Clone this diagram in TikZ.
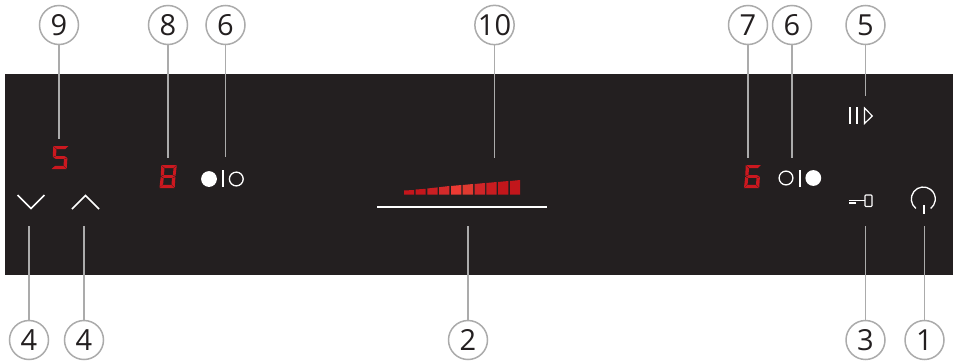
\documentclass[tikz,border=0pt]{standalone}
\usepackage{fontspec}
\setmainfont{Open Sans}
\definecolor{panel}{HTML}{231F20}
\definecolor{ring}{HTML}{ABABAB}
\definecolor{segred}{HTML}{CC181F}
\tikzset{
  callout/.style={circle,draw=ring,line width=1.5pt,fill=white,minimum size=39pt,inner sep=0pt,text=panel,font=\fontsize{29}{29}\selectfont},
  leader/.style={draw=ring,line width=1.3pt},
  icon/.style={draw=white,line width=1.5pt},
  iconfill/.style={fill=white,draw=none},
  seg/.style={fill=segred,draw=none},
}
% seven segment digit: #1 x of lower left, #2 y of bottom
\newcommand{\sgA}[2]{\fill[seg] (#1+2,#2-23) -- (#1+17,#2-23) -- (#1+13.6,#2-19.8) -- (#1+5.6,#2-19.8) -- cycle;}
\newcommand{\sgG}[2]{\fill[seg] (#1+1.9,#2-11.5) -- (#1+4.6,#2-12.9) -- (#1+12.8,#2-12.9) -- (#1+15.5,#2-11.5) -- (#1+12.6,#2-10.1) -- (#1+4.4,#2-10.1) -- cycle;}
\newcommand{\sgD}[2]{\fill[seg] (#1+0,#2) -- (#1+15,#2) -- (#1+11.6,#2-3.2) -- (#1+3.6,#2-3.2) -- cycle;}
\newcommand{\sgF}[2]{\fill[seg] (#1+1.7,#2-22.6) -- (#1+5,#2-19.3) -- (#1+4.5,#2-13.3) -- (#1+1.3,#2-12) -- cycle;}
\newcommand{\sgB}[2]{\fill[seg] (#1+17.3,#2-22.6) -- (#1+16,#2-12) -- (#1+13.4,#2-13.3) -- (#1+14,#2-19.3) -- cycle;}
\newcommand{\sgE}[2]{\fill[seg] (#1+1.2,#2-11) -- (#1+4.2,#2-9.7) -- (#1+3.6,#2-3.7) -- (#1+0,#2-0.4) -- cycle;}
\newcommand{\sgC}[2]{\fill[seg] (#1+15.9,#2-11) -- (#1+15.2,#2-0.4) -- (#1+12,#2-3.7) -- (#1+12.5,#2-9.7) -- cycle;}
\begin{document}
\begin{tikzpicture}[x=1pt,y=-1pt]
\useasboundingbox (0,0) rectangle (953,362);
\fill[panel] (5,74) rectangle (953,275);
% callouts
\node[callout] (n9) at (59,25) {9};
\node[callout] (n8) at (168,25) {8};
\node[callout] (n6a) at (225.5,25) {6};
\node[callout] (n10) at (494.5,25) {10};
\node[callout] (n7) at (748,25) {7};
\node[callout] (n6b) at (792,25) {6};
\node[callout] (n5) at (865.5,25) {5};
\node[callout] (n4a) at (29,340) {4};
\node[callout] (n4b) at (84,340) {4};
\node[callout] (n2) at (468,340) {2};
\node[callout] (n3) at (865.5,340) {3};
\node[callout] (n1) at (924.5,340) {1};
\coordinate (e9) at (59,139);
\coordinate (e8) at (168,157.5);
\coordinate (e6a) at (225.5,156.5);
\coordinate (e10) at (494.5,158);
\coordinate (e7) at (748,157.5);
\coordinate (e6b) at (792,157.5);
\coordinate (e5) at (865.5,95.5);
\coordinate (e4a) at (29,226);
\coordinate (e4b) at (84,226);
\coordinate (e2) at (468,226);
\coordinate (e3) at (865.5,226);
\coordinate (e1) at (924.5,226);
\foreach \a/\b in {n9/e9,n8/e8,n6a/e6a,n10/e10,n7/e7,n6b/e6b,n5/e5,n4a/e4a,n4b/e4b,n2/e2,n3/e3,n1/e1}
  \draw[leader] (\a) -- (\b);
% chevrons
\draw[icon,line join=miter] (17.5,195) -- (31,208.5) -- (44.5,195);
\draw[icon,line join=miter] (72,209) -- (85.5,195.5) -- (99,209);
% left selector
\fill[iconfill] (209,179) circle (7.9);
\fill[iconfill] (222,170) rectangle (224,187);
\draw[icon,line width=1.3pt] (236.3,179) circle (6.9);
% right selector
\draw[icon,line width=1.3pt] (786,178) circle (6.9);
\fill[iconfill] (799,170) rectangle (801,187);
\fill[iconfill] (813.3,178) circle (7.9);
% pause
\fill[iconfill] (849,107) rectangle (851.2,124);
\fill[iconfill] (856,107) rectangle (858.2,124);
\draw[icon,line width=1.2pt,line join=miter] (864.5,108) -- (872.3,116) -- (864.5,123.5) -- cycle;
% key
\fill[iconfill] (849,199.5) rectangle (865,200.8);
\fill[iconfill] (849,201.5) rectangle (856,204);
\draw[icon,line width=1.1pt,rounded corners=0.8pt] (865,195) rectangle (872,206.5);
% power
\draw[icon,line width=1.3pt] (923.3,199) ++(128:12) arc[start angle=128,end angle=412,radius=12];
\fill[iconfill] (923,205) rectangle (925,214);
% slider
\fill[iconfill] (377,206) rectangle (547,208);
% bars
\foreach \xa/\xb/\tl/\tr/\c in {
  404/414/190.5/190/C4161C,
  415.7/425.7/189.5/188.8/C4161C,
  427.3/437.6/188.5/187.4/CB1F23,
  439/449.3/187.2/186/D42A2A,
  451/461.3/186/185/EC3A33,
  462.7/473/185/184/DF3A30,
  474.7/485/184/183/CF2528,
  486.3/496.7/183/182/C81C20,
  498/508.3/182/181/C2161B,
  510/520/181/180/C2161B}{
  \definecolor{barc}{HTML}{\c}
  \fill[barc] (\xa,194.7) -- (\xa,\tl) -- (\xb,\tr) -- (\xb,194.7) -- cycle;
}
% digit 5
\sgA{51.5}{169} \sgF{51.5}{169} \sgG{51.5}{169} \sgC{51.5}{169} \sgD{51.5}{169}
% digit 8
\sgA{159.5}{188} \sgB{159.5}{188} \sgC{159.5}{188} \sgD{159.5}{188} \sgE{159.5}{188} \sgF{159.5}{188} \sgG{159.5}{188}
% digit 6
\sgA{744}{188} \sgF{744}{188} \sgE{744}{188} \sgG{744}{188} \sgC{744}{188} \sgD{744}{188}
\end{tikzpicture}
\end{document}
